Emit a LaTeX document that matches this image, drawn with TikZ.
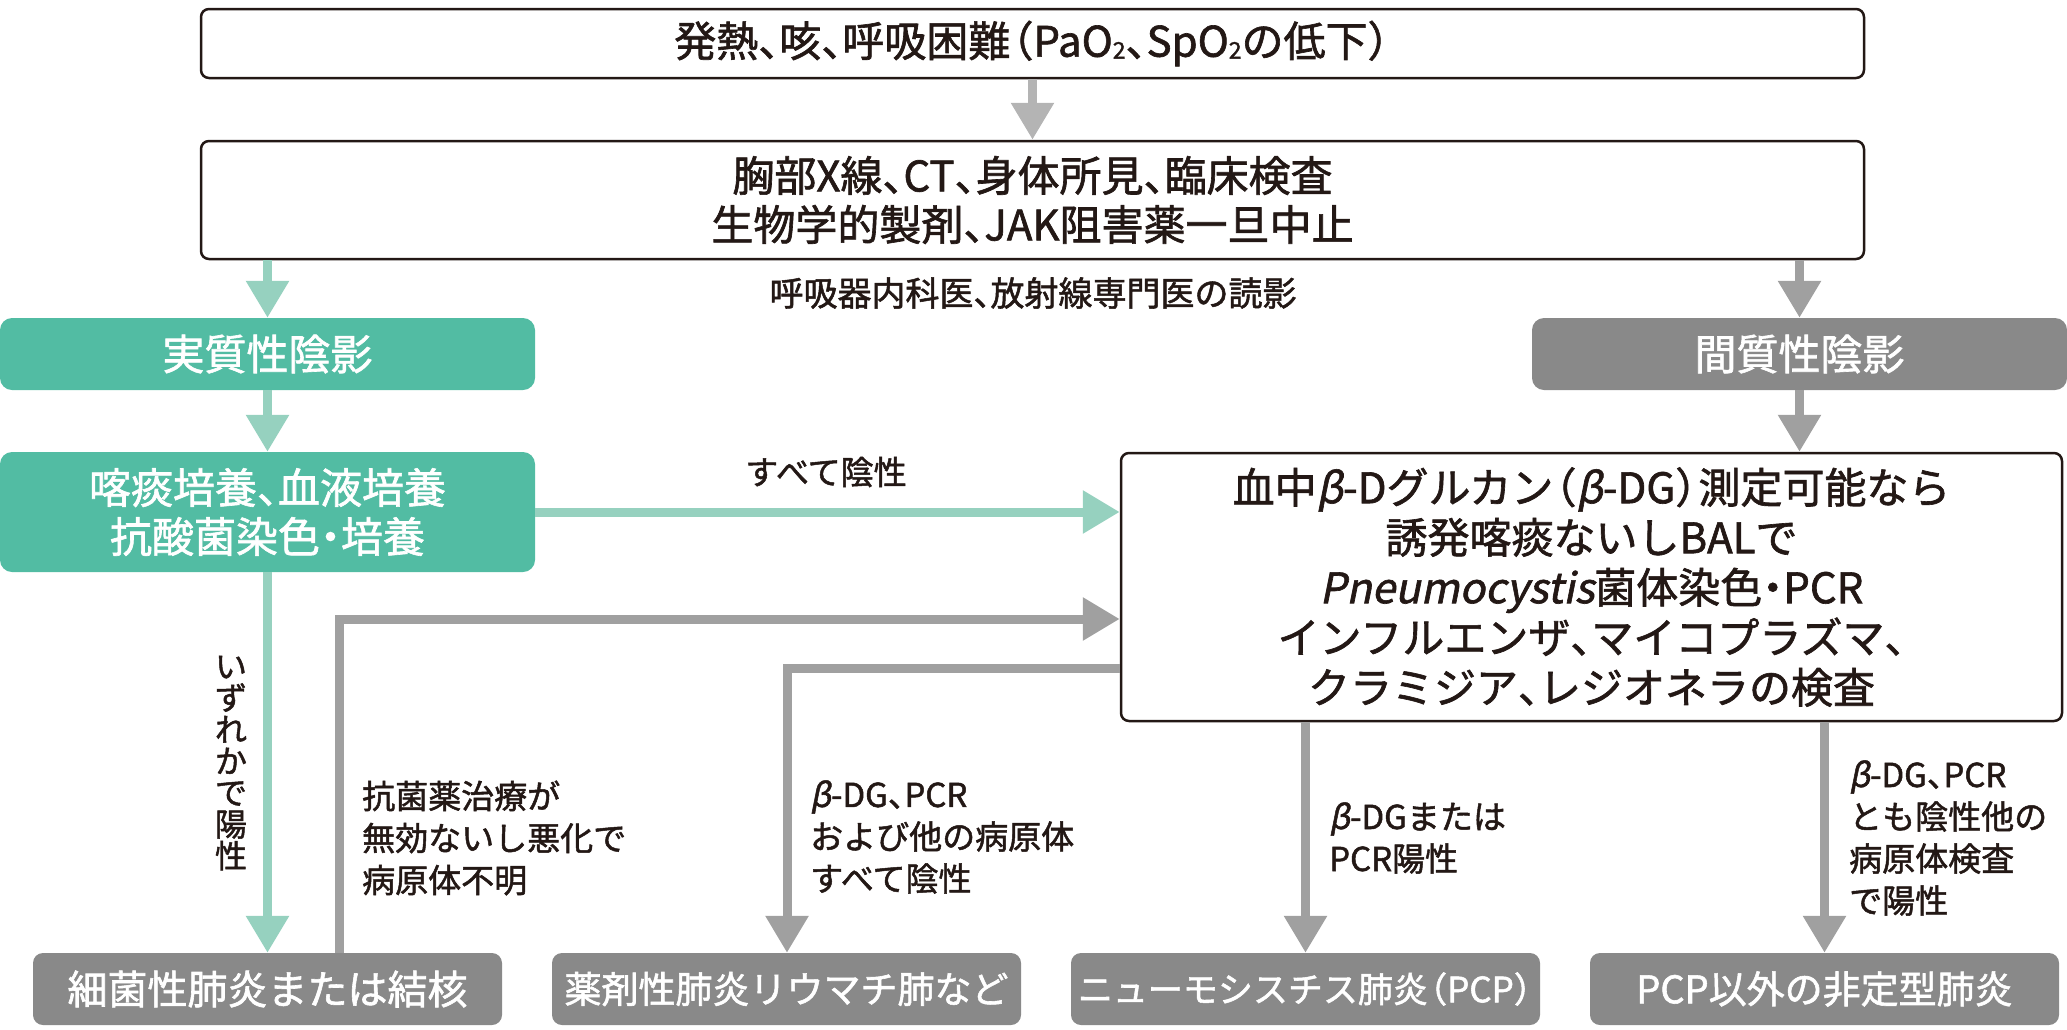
\documentclass[tikz,border=0pt]{standalone}
\usepackage{fontspec}
\setmainfont{Noto Sans CJK JP}[FakeBold=1.5]
\newfontfamily\itcjk{Noto Sans CJK JP}[FakeSlant=0.2,FakeBold=1.5]
\usetikzlibrary{arrows.meta}
\definecolor{tealbox}{HTML}{52BCA3}
\definecolor{tealarr}{HTML}{96D1BF}
\definecolor{graybox}{HTML}{898989}
\definecolor{grayarr}{HTML}{A0A0A0}
\definecolor{lightarr}{HTML}{B4B4B4}
\definecolor{ink}{HTML}{231815}
\newcommand{\bt}{{\itcjk β}}
\newcommand{\tk}{\makebox[0.5em][l]{、}}
\newcommand{\lp}{\makebox[0.55em][r]{（}}
\newcommand{\rp}{\makebox[0.55em][l]{）}}
\newcommand{\nk}{\makebox[0.5em][c]{・}}
\newcommand{\subtwo}{\raisebox{-2pt}{\fontsize{23}{23}\selectfont 2}}
\begin{document}
\begin{tikzpicture}[x=1pt,y=-1pt,
  wbox/.style={draw=ink,line width=2.5pt,rounded corners=8pt,fill=white,inner sep=0pt,text=ink,align=center,
    font=\fontsize{42}{49}\selectfont},
  tbox/.style={fill=tealbox,rounded corners=12pt,inner sep=0pt,text=white,align=center,
    font=\fontsize{42}{49}\selectfont},
  gbox/.style={fill=graybox,rounded corners=12pt,inner sep=0pt,text=white,align=center,
    font=\fontsize{42}{49}\selectfont},
  bbox/.style={fill=graybox,rounded corners=10pt,inner sep=0pt,text=white,align=center,
    minimum width=469pt,minimum height=72pt},
  lbl/.style={inner sep=0pt,text=ink,align=left,font=\fontsize{33}{42}\selectfont},
  tarr/.style={draw=tealarr,line width=9pt,-{Triangle[width=41pt,length=37pt]}},
  garr/.style={draw=grayarr,line width=9pt,-{Triangle[width=41pt,length=37pt]}},
  larr/.style={draw=lightarr,line width=9pt,-{Triangle[width=41pt,length=37pt]}}
]
\useasboundingbox (0,0) rectangle (2067,1029);

% boxes
\node[wbox,minimum width=1663pt,minimum height=69pt] (top) at (1032.5,43.5)
  {発熱\tk 咳\tk 呼吸困難\lp PaO\subtwo\tk SpO\subtwo の低下\rp};
\node[wbox,minimum width=1663pt,minimum height=118pt] (exam) at (1032.5,200)
  {胸部X線\tk CT\tk 身体所見\tk 臨床検査\\生物学的製剤\tk JAK阻害薬一旦中止};
\node[tbox,minimum width=535pt,minimum height=72pt] (cons) at (267.5,354) {実質性陰影};
\node[gbox,minimum width=535pt,minimum height=72pt] (inter) at (1799.5,354) {間質性陰影};
\node[tbox,minimum width=535pt,minimum height=120pt] (cult) at (267.5,512)
  {喀痰培養\tk 血液培養\\抗酸菌染色\nk 培養};
\node[wbox,minimum width=941pt,minimum height=268pt,font=\fontsize{42}{50}\selectfont] (bal) at (1591.5,587)
  {血中\bt-Dグルカン\lp\bt-DG\rp 測定可能なら\\誘発喀痰ないしBALで\\{\itcjk Pneumocystis}菌体染色\nk PCR\\インフルエンザ\tk マイコプラズマ\tk\\クラミジア\tk レジオネラの検査};
\node[bbox,font=\fontsize{40}{46}\selectfont] (b1) at (267.5,989) {細菌性肺炎または結核};
\node[bbox,font=\fontsize{37}{46}\selectfont] (b2) at (786.5,989) {薬剤性肺炎リウマチ肺など};
\node[bbox,font=\fontsize{35}{46}\selectfont] (b3) at (1305.5,989) {ニューモシスチス肺炎\lp PCP\rp};
\node[bbox,font=\fontsize{38}{46}\selectfont] (b4) at (1824.5,989) {PCP以外の非定型肺炎};

% labels
\node[lbl,font=\fontsize{34}{42}\selectfont] (reading) at (1033,293) {呼吸器内科医\tk 放射線専門医の読影};
\node[lbl] (allneg) at (826,472) {すべて陰性};
\node[lbl,align=center,font=\fontsize{32}{31.6}\selectfont] (anypos) at (231,763)
  {い\\ず\\れ\\か\\で\\陽\\性};
\node[lbl,anchor=west] (abx) at (362,838) {抗菌薬治療が\\無効ないし悪化で\\病原体不明};
\node[lbl,anchor=west] (drugneg) at (810,837) {\bt-DG\tk PCR\\および他の病原体\\すべて陰性};
\node[lbl,anchor=west] (pcppos) at (1329,838) {\bt-DGまたは\\PCR陽性};
\node[lbl,anchor=west] (otherpos) at (1849,838) {\bt-DG\tk PCR\\とも陰性他の\\病原体検査\\で陽性};

% connectors
\coordinate (c1) at (339,619);
\coordinate (c2) at (787,668);
\draw[larr] (top) -- (exam);
\draw[tarr] (exam.south -| cons.north) -- (cons.north);
\draw[garr] (exam.south -| inter.north) -- (inter.north);
\draw[tarr] (cons) -- (cult);
\draw[tarr] (cult.east) -- (cult.east -| bal.west);
\draw[tarr] (cult) -- (b1);
\draw[garr] (b1.north -| c1) |- (bal.west |- c1);
\draw[garr] (bal.west |- c2) -| (b2.north -| c2);
\draw[garr] (inter) -- (inter.south |- bal.north);
\draw[garr] (bal.south -| b3.north) -- (b3.north);
\draw[garr] (bal.south -| b4.north) -- (b4.north);
\end{tikzpicture}
\end{document}
